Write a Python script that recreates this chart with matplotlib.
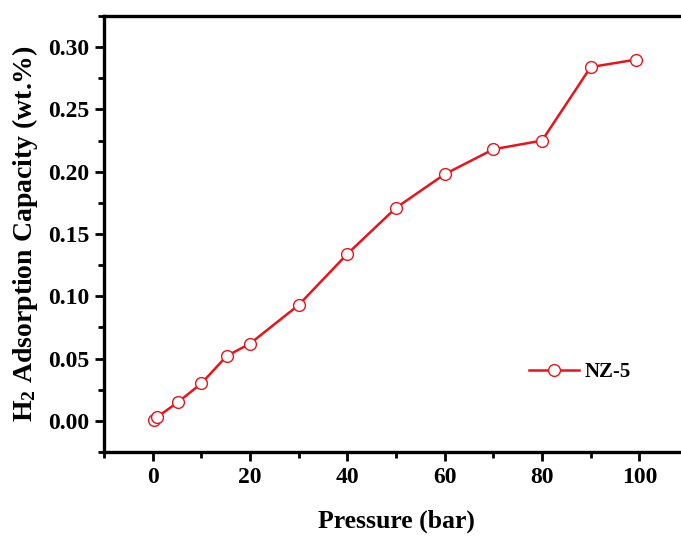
import numpy as np
import matplotlib
matplotlib.use('Agg')
import matplotlib.pyplot as plt
from matplotlib.ticker import MultipleLocator

plt.rcParams['font.family'] = ['Liberation Serif', 'DejaVu Serif']
plt.rcParams['font.weight'] = 'bold'
plt.rcParams['mathtext.fontset'] = 'custom'
plt.rcParams['mathtext.rm'] = 'Liberation Serif:bold'
plt.rcParams['mathtext.it'] = 'Liberation Serif:bold'
plt.rcParams['mathtext.bf'] = 'Liberation Serif:bold'

# ---------------------------
# Data
# ---------------------------
pressure = [0.2, 0.9, 5.2, 10, 15.2, 20, 30, 40, 50, 60, 70, 80, 90, 99.3]
capacity = [0.001, 0.003, 0.015, 0.030, 0.052, 0.062, 0.093, 0.134,
            0.171, 0.198, 0.218, 0.225, 0.284, 0.290]
series_name = 'NZ-5'

fig = plt.figure(figsize=(6.81, 5.39), dpi=100)
ax = fig.add_axes([0.1527, 0.1614, 0.8576, 0.8089])

ax.plot(pressure, capacity, color='#e8141b', lw=1.8, marker='o', ms=8.5,
        mfc='white', mec='#e8141b', mew=1.0, label=series_name)

ax.set_xlim(-10, 110)
ax.set_ylim(-0.025, 0.325)
ax.xaxis.set_major_locator(MultipleLocator(20))
ax.xaxis.set_minor_locator(MultipleLocator(10))
ax.yaxis.set_major_locator(MultipleLocator(0.05))
ax.yaxis.set_minor_locator(MultipleLocator(0.025))
ax.yaxis.set_major_formatter(plt.FormatStrFormatter('%.2f'))

for s in ['left', 'bottom', 'top']:
    ax.spines[s].set_linewidth(2.4)
ax.spines['right'].set_visible(False)
ax.tick_params(which='major', direction='out', length=6.5, width=2,
               labelsize=17, pad=4)
ax.tick_params(which='minor', direction='out', length=4, width=2)
ax.tick_params(top=False, right=False)

ax.set_xlabel('Pressure (bar)', fontsize=18.5, fontweight='bold', labelpad=16)
ax.set_ylabel('H$_2$ Adsorption Capacity (wt.%)', fontsize=20,
              fontweight='bold', labelpad=6)

ax.legend(loc='center left', bbox_to_anchor=(0.695, 0.183), frameon=False,
          fontsize=15, handlelength=2.4, handletextpad=0.3)

plt.savefig('out.png', dpi=100)
